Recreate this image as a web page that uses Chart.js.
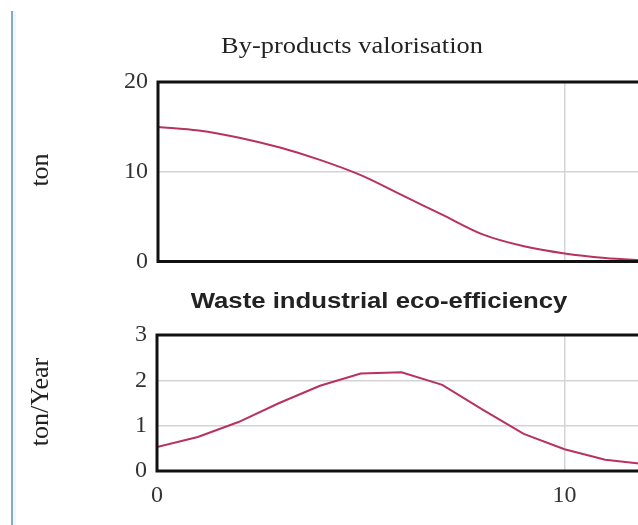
<!DOCTYPE html>
<html>
<head>
<meta charset="utf-8">
<script src="https://cdn.jsdelivr.net/npm/chart.js@4/dist/chart.umd.min.js"></script>
<style>
  html, body { margin: 0; padding: 0; background: #fff; overflow: hidden; width: 638px; height: 525px; }
  .wrap { position: absolute; left: 0; width: 680px; }
  .txt { position: absolute; color: #222; white-space: nowrap; }
  .serif { font-family: 'Liberation Serif', 'DejaVu Serif', serif; }
  .sans { font-family: 'Liberation Sans', Arial, sans-serif; font-weight: bold; }
  .rot { transform: translate(-50%, -50%) rotate(-90deg); }
  #blue { position: absolute; left: 11px; top: 11px; width: 2px; height: 514px; background: #86aac4; }
  #blue2 { position: absolute; left: 13px; top: 11px; width: 3px; height: 514px; background: #eef8fc; }
</style>
</head>
<body>
<div id="blue"></div><div id="blue2"></div>
<div class="wrap" style="top:0;height:286px;"><canvas id="c1" width="680" height="286"></canvas></div>
<div class="wrap" style="top:280px;height:245px;"><canvas id="c2" width="680" height="245"></canvas></div>
<div class="txt serif" style="left:352px;top:45px;font-size:24px;transform:translate(-50%,-50%) scaleX(1.1);">By-products valorisation</div>
<div class="txt sans" style="left:379px;top:301px;font-size:22px;transform:translate(-50%,-50%) scaleX(1.17);">Waste industrial eco-efficiency</div>
<div class="txt serif rot" style="left:40px;top:170px;font-size:26px;">ton</div>
<div class="txt serif rot" style="left:40px;top:402px;font-size:26px;">ton/Year</div>
<script>
const years = [0, 1, 2, 3, 4, 5, 6, 7, 8, 9, 10, 11, 12];
const byProducts = [15, 14.6, 13.8, 12.7, 11.3, 9.6, 7.4, 5.2, 3.0, 1.7, 0.9, 0.4, 0.1];
const wasteEco = [0.53, 0.75, 1.08, 1.5, 1.88, 2.15, 2.18, 1.9, 1.35, 0.82, 0.48, 0.25, 0.15];
const xTicks = [0, 10];
const yTicksTop = [0, 10, 20];
const yTicksBottom = [0, 1, 2, 3];

const lineColor = '#b8325e';
const gridColor = '#d4d4d4';
const tickFont = { family: "'Liberation Serif', 'DejaVu Serif', serif", size: 24 };

const framePlugin = {
  id: 'frame',
  afterDraw(chart) {
    const { ctx, chartArea: a } = chart;
    ctx.save();
    ctx.strokeStyle = '#111';
    ctx.lineWidth = 3;
    ctx.beginPath();
    ctx.moveTo(a.right + 5, a.top);
    ctx.lineTo(a.left, a.top);
    ctx.lineTo(a.left, a.bottom);
    ctx.lineTo(a.right + 5, a.bottom);
    ctx.stroke();
    ctx.restore();
  }
};

function makeChart(id, data, yTicks, showX, pad, yWidth, xHeight, smooth) {
  const ymax = yTicks[yTicks.length - 1];
  const ds = {
    data: years.map((x, i) => ({ x, y: data[i] })),
    borderColor: lineColor,
    borderWidth: 2,
    pointRadius: 0,
    tension: 0,
    fill: false
  };
  if (smooth) ds.cubicInterpolationMode = 'monotone';
  return new Chart(document.getElementById(id), {
    type: 'line',
    data: { datasets: [ds] },
    options: {
      responsive: false,
      animation: false,
      layout: { padding: pad },
      plugins: { legend: { display: false }, title: { display: false }, tooltip: { enabled: false } },
      scales: {
        x: {
          type: 'linear', min: 0, max: 12,
          afterBuildTicks: s => { s.ticks = xTicks.map(v => ({ value: v })); },
          afterFit: s => { s.height = xHeight; },
          border: { display: false },
          grid: { drawTicks: false, color: c => (c.tick && c.tick.value === 10 ? gridColor : 'transparent'), lineWidth: 1.5 },
          ticks: { display: showX, padding: 10, font: tickFont, color: '#333', maxRotation: 0 }
        },
        y: {
          min: 0, max: ymax,
          afterBuildTicks: s => { s.ticks = yTicks.map(v => ({ value: v })); },
          afterFit: s => { s.width = yWidth; },
          border: { display: false },
          grid: { drawTicks: false, color: c => (c.tick && c.tick.value > 0 && c.tick.value < ymax ? gridColor : 'transparent'), lineWidth: 1.5 },
          ticks: { padding: 10, font: tickFont, color: '#333' }
        }
      }
    },
    plugins: [framePlugin]
  });
}

makeChart('c1', byProducts, yTicksTop, false, { top: 82, right: 34, bottom: 0, left: 0 }, 158, 0, true);
makeChart('c2', wasteEco, yTicksBottom, true, { top: 55, right: 34, bottom: 0, left: 0 }, 157, 54, false);
</script>
</body>
</html>
